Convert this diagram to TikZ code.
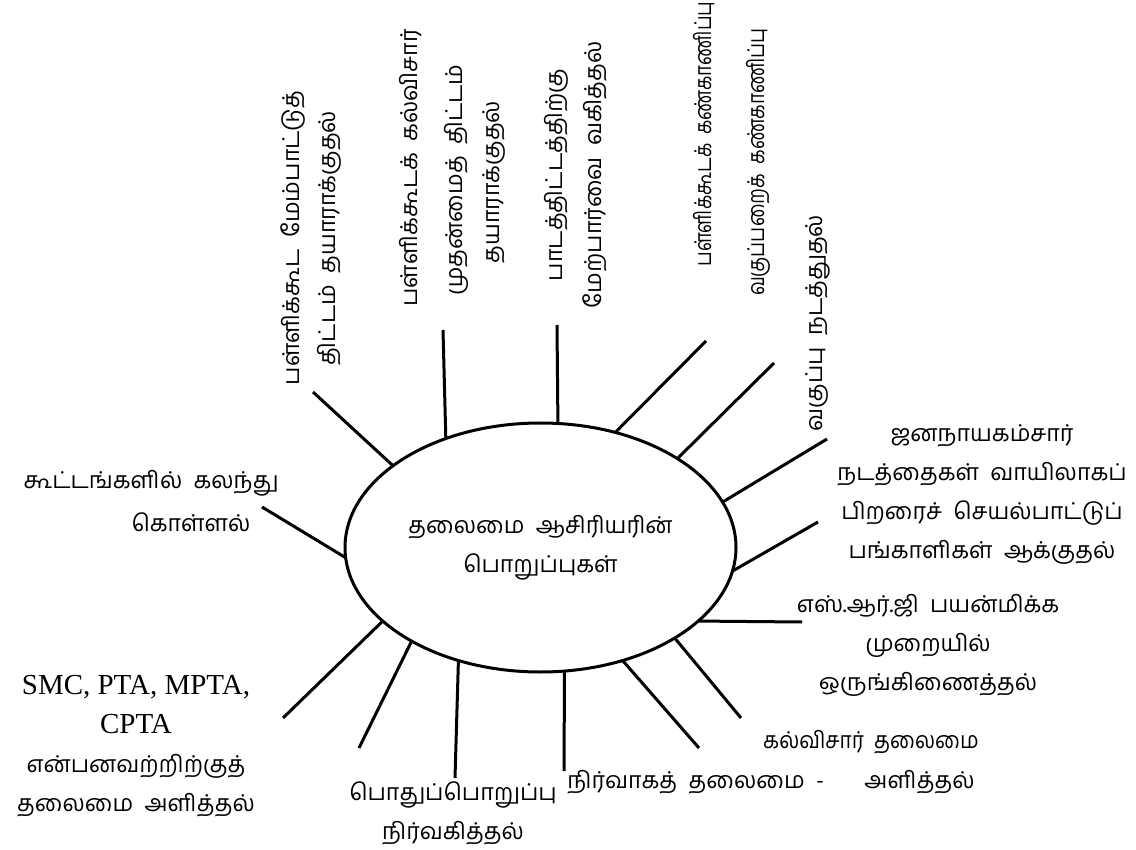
\documentclass[tikz,border=0pt]{standalone}
\usepackage{fontspec}
\usepackage{graphicx}
\newfontfamily\tam[Script=Tamil,WordSpace=2]{Hind Madurai}
\newfontfamily\lser{Liberation Serif}
\usetikzlibrary{shapes.geometric}
\begin{document}
\begin{tikzpicture}[x=0.5pt,y=-0.5pt,
  lbl/.style={font=\tam\fontsize{11.6}{19.5}\selectfont, inner sep=0pt, align=center},
  vlbl/.style={lbl, rotate=90},
  spoke/.style={line width=1.5pt},
]
\useasboundingbox (0,0) rectangle (1136,850);
\node[ellipse, draw, line width=1.5pt, minimum width=195.5pt, minimum height=124.5pt, inner sep=0pt, outer sep=0pt, lbl] (E) at (540.5,547.5) {தலைமை ஆசிரியரின்\\பொறுப்புகள்};

% outer ends of spokes
\coordinate (o1) at (313,392);
\coordinate (o2) at (443,330);
\coordinate (o3) at (557,325);
\coordinate (o4) at (706,341);
\coordinate (o5) at (774,363);
\coordinate (o6) at (827,439);
\coordinate (o7) at (818,522);
\coordinate (o8) at (802,622);
\coordinate (o9) at (741,718);
\coordinate (o10) at (699,748);
\coordinate (o11) at (564,771);
\coordinate (o12) at (455,778);
\coordinate (o13) at (359,748);
\coordinate (o14) at (283,718);
\coordinate (o15) at (262,507);

\draw[spoke] (E.151.1) -- (o1);
\draw[spoke] (E.131.4) -- (o2);
\draw[spoke] (E.82.3) -- (o3);
\draw[spoke] (E.57.2) -- (o4);
\draw[spoke] (E.33.4) -- (o5);
\draw[spoke] (E.14.7) -- (o6);
\draw[spoke] (E.-7.4) -- (o7);
\draw[spoke] (E.-25.8) -- (o8);
\draw[spoke] (E.-34.7) -- (o9);
\draw[spoke] (E.-54.3) -- (o10);
\draw[spoke] (E.-79.1) -- (o11);
\draw[spoke] (E.234.2) -- (o12);
\draw[spoke] (E.216.9) -- (o13);
\draw[spoke] (E.205) -- (o14);
\draw[spoke] (E.183) -- (o15);

% vertical labels
\node[vlbl] (t1a) at (293,238) {பள்ளிக்கூட மேம்பாட்டுத்};
\node[vlbl] (t1b) at (329,238) {திட்டம் தயாராக்குதல்};
\node[vlbl] (t2a) at (411,168) {பள்ளிக்கூடக் கல்விசார்};
\node[vlbl] (t2b) at (456,180) {முதன்மைத் திட்டம்};
\node[vlbl] (t2c) at (494,182) {தயாராக்குதல்};
\node[vlbl] (t3a) at (556,175) {பாடத்திட்டத்திற்கு};
\node[vlbl] (t3b) at (595,175) {மேற்பார்வை வகித்தல்};
\node[vlbl, anchor=east] (t4a) at (704,1) {\scalebox{0.8}[1]{பள்ளிக்கூடக் கண்காணிப்பு}};
\node[vlbl] (t4b) at (758,162) {\scalebox{0.82}[1]{வகுப்பறைக் கண்காணிப்பு}};
\node[vlbl] (t5) at (818,323) {வகுப்பு நடத்துதல்};

% horizontal labels
\node[lbl] (t6) at (982,494) {ஜனநாயகம்சார்\\நடத்தைகள் வாயிலாகப்\\பிறரைச் செயல்பாட்டுப்\\பங்காளிகள் ஆக்குதல்};
\node[lbl] (t7) at (928,645) {எஸ்.ஆர்.ஜி பயன்மிக்க\\முறையில்\\ஒருங்கிணைத்தல்};
\node[lbl] (t8) at (871,742) {\scalebox{0.9}[1]{கல்விசார் தலைமை}};
\node[lbl, anchor=west] (t9) at (567,782) {நிர்வாகத் தலைமை -};
\node[lbl, anchor=east] (t8b) at (975,782) {அளித்தல்};
\node[lbl] (t10) at (453,813) {பொதுப்பொறுப்பு\\நிர்வகித்தல்};
\node[lbl] (t11) at (136,746) {\lser\fontsize{14.5}{19.5}\selectfont SMC, PTA, MPTA,\\\lser\fontsize{14.5}{19.5}\selectfont CPTA\\என்பனவற்றிற்குத்\\தலைமை அளித்தல்};
\node[lbl] (t12) at (151,483) {கூட்டங்களில் கலந்து};
\node[lbl] (t12b) at (191,522) {கொள்ளல்};
\end{tikzpicture}
\end{document}
